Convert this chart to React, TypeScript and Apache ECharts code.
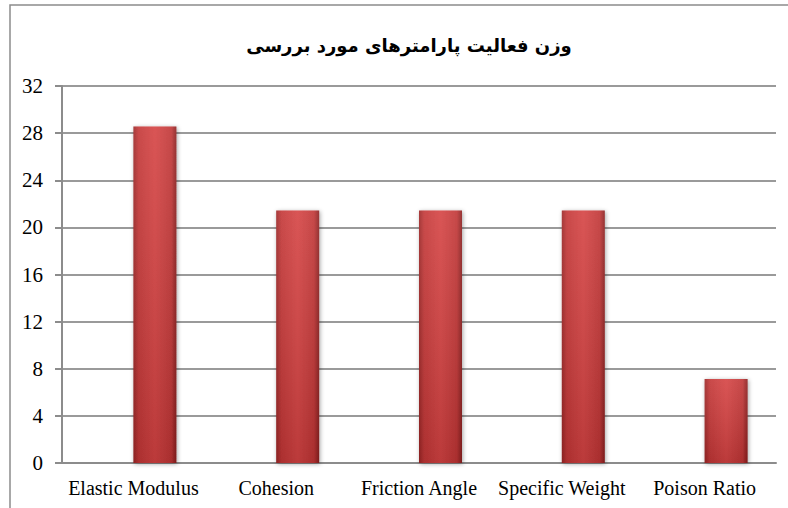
import React, { useEffect, useRef } from "react";
import * as echarts from "echarts";

const titleText = "وزن فعالیت پارامترهای مورد بررسی";
const categories = ["Elastic Modulus", "Cohesion", "Friction Angle", "Specific Weight", "Poison Ratio"];
const weights = [28.57, 21.43, 21.43, 21.43, 7.14];
const yMin = 0;
const yMax = 32;
const yStep = 4;

const serif = "'Liberation Serif', 'Times New Roman', serif";

export default function App() {
  const ref = useRef<HTMLDivElement>(null);
  useEffect(() => {
    if (!ref.current) return;
    const chart = echarts.init(ref.current, undefined, { renderer: "svg" });
    const barFill = new echarts.graphic.LinearGradient(0, 0, 1, 0, [
      { offset: 0, color: "#9c2626" },
      { offset: 0.12, color: "#c33636" },
      { offset: 0.5, color: "#d54343" },
      { offset: 0.88, color: "#c03535" },
      { offset: 1, color: "#8a1f1f" },
    ]);
    const shade = new echarts.graphic.LinearGradient(0, 0, 0, 1, [
      { offset: 0, color: "rgba(255,255,255,0.10)" },
      { offset: 1, color: "rgba(0,0,0,0.12)" },
    ]);
    const ghost = { color: "rgba(0,0,0,0)" };
    chart.setOption({
      animation: false,
      backgroundColor: "#ffffff",
      title: {
        text: titleText,
        left: 404,
        top: 31,
        textAlign: "center",
        textStyle: { fontFamily: "DejaVu Sans", fontWeight: "bold", fontSize: 18, color: "#000" },
      },
      graphic: [
        {
          type: "rect",
          shape: { x: 10, y: 5, width: 800, height: 520 },
          style: { fill: "none", stroke: "#8c8c8c", lineWidth: 1.5 },
          silent: true,
        },
      ],
      grid: [{ left: 62, right: 12, top: 86, bottom: 45 }],
      xAxis: [
        {
          type: "category",
          gridIndex: 0,
          data: categories,
          axisLine: { lineStyle: { color: "#8c8c8c", width: 2 } },
          axisTick: { show: false },
          axisLabel: { fontFamily: serif, fontSize: 20, color: "#000", margin: 15, interval: 0 },
        },
        {
          type: "category",
          gridIndex: 0,
          data: categories,
          show: false,
        },
      ],
      yAxis: [
        {
          type: "value",
          gridIndex: 0,
          min: yMin,
          max: yMax,
          interval: yStep,
          axisLine: { show: true, lineStyle: { color: "#8c8c8c", width: 2 } },
          axisTick: { show: true, length: 7, lineStyle: { color: "#8c8c8c", width: 2 } },
          axisLabel: { fontFamily: serif, fontSize: 21, color: "#000", margin: 19 },
          splitLine: { lineStyle: { color: "#9a9a9a", width: 2 } },
        },
      ],
      series: [
        {
          type: "bar",
          xAxisIndex: 0,
          data: weights,
          barWidth: 43,
          barGap: "0%",
          itemStyle: ghost,
          silent: true,
        },
        {
          type: "bar",
          xAxisIndex: 0,
          data: weights,
          barWidth: 43,
          barGap: "0%",
          itemStyle: {
            color: barFill,
            shadowBlur: 4,
            shadowColor: "rgba(0,0,0,0.35)",
            shadowOffsetX: 1,
            shadowOffsetY: 1,
          },
        },
        {
          type: "bar",
          xAxisIndex: 1,
          data: weights,
          barWidth: 43,
          barGap: "0%",
          itemStyle: ghost,
          silent: true,
        },
        {
          type: "bar",
          xAxisIndex: 1,
          data: weights,
          barWidth: 43,
          barGap: "0%",
          itemStyle: { color: shade },
          silent: true,
        },
      ],
    });
    return () => chart.dispose();
  }, []);
  return <div ref={ref} style={{ position: "absolute", left: 0, top: 0, width: 788, height: 508 }} />;
}
